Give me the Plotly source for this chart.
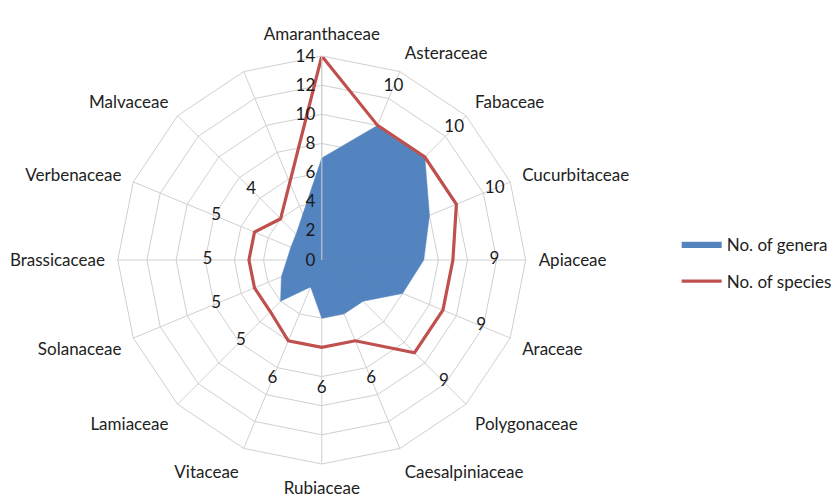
import plotly.graph_objects as go

families = ["Amaranthaceae", "Asteraceae", "Fabaceae", "Cucurbitaceae", "Apiaceae",
            "Araceae", "Polygonaceae", "Caesalpiniaceae", "Rubiaceae", "Vitaceae",
            "Lamiaceae", "Solanaceae", "Brassicaceae", "Verbenaceae", "Malvaceae"]
axis_categories = families + [" "]  # the reference has one unlabelled spoke
genera = [7, 10, 10, 8, 7, 6, 4, 4, 4, 2, 4, 3, 2.4, 2.3, 2.5]
species = [14, 10, 10, 10, 9, 9, 9, 6, 6, 6, 5, 5, 5, 5, 4]
radial_ticks = [0, 2, 4, 6, 8, 10, 12, 14]
R_MAX = 14

BLUE = "#4F81BD"
RED = "#C0504D"
GRID = "#D0D0D0"
FONT = "Lato, Open Sans, sans-serif"
LABEL_OFFSET = 2.85

theta_closed = families + [families[0]]
label_r = [v + LABEL_OFFSET for v in species]
# labels that would fall outside the plot area are not shown (as in the reference)
label_text = [str(v) if r <= R_MAX else "" for v, r in zip(species, label_r)]

fig = go.Figure()
fig.add_trace(go.Scatterpolar(
    r=genera + [genera[0]], theta=theta_closed, mode="lines", fill="toself",
    fillcolor=BLUE, line=dict(color=BLUE, width=0.5), name="No. of genera",
    legendgroup="g", opacity=0.97,
))
fig.add_trace(go.Scatterpolar(
    r=species + [species[0]], theta=theta_closed, mode="lines",
    line=dict(color=RED, width=3.2), name="No. of species", legendgroup="s",
))
fig.add_trace(go.Scatterpolar(
    r=[min(r, R_MAX) for r in label_r], theta=families, mode="text",
    text=label_text, textfont=dict(size=17, color="#1a1a1a", family=FONT),
    showlegend=False, cliponaxis=True, hoverinfo="skip",
))

fig.update_layout(
    width=839, height=504,
    margin=dict(l=0, r=0, t=0, b=0),
    paper_bgcolor="white",
    font=dict(family=FONT, size=17, color="#222222"),
    polar=dict(
        domain=dict(x=[0.1309, 0.6171], y=[0.0952, 0.9048]),
        bgcolor="white",
        gridshape="linear",
        angularaxis=dict(
            type="category", categoryorder="array", categoryarray=axis_categories,
            rotation=90, direction="clockwise",
            showline=True, linecolor=GRID, linewidth=1,
            gridcolor=GRID, gridwidth=1,
            ticks="outside", ticklen=9, tickcolor="rgba(0,0,0,0)",
            tickfont=dict(size=17, color="#222222", family=FONT),
        ),
        radialaxis=dict(
            range=[0, R_MAX], tickvals=radial_ticks, angle=90, tickangle=90,
            side="counterclockwise",
            showline=True, linecolor=GRID, linewidth=1,
            gridcolor=GRID, gridwidth=1, ticks="",
            tickfont=dict(size=17, color="#1a1a1a", family=FONT),
            layer="above traces",
        ),
    ),
    legend=dict(
        x=0.797, y=0.494, xanchor="left", yanchor="middle",
        font=dict(size=17, color="#222222", family=FONT),
        itemwidth=40, traceorder="grouped", tracegroupgap=12,
        bgcolor="rgba(0,0,0,0)",
    ),
)

fig.write_html("out.html")
